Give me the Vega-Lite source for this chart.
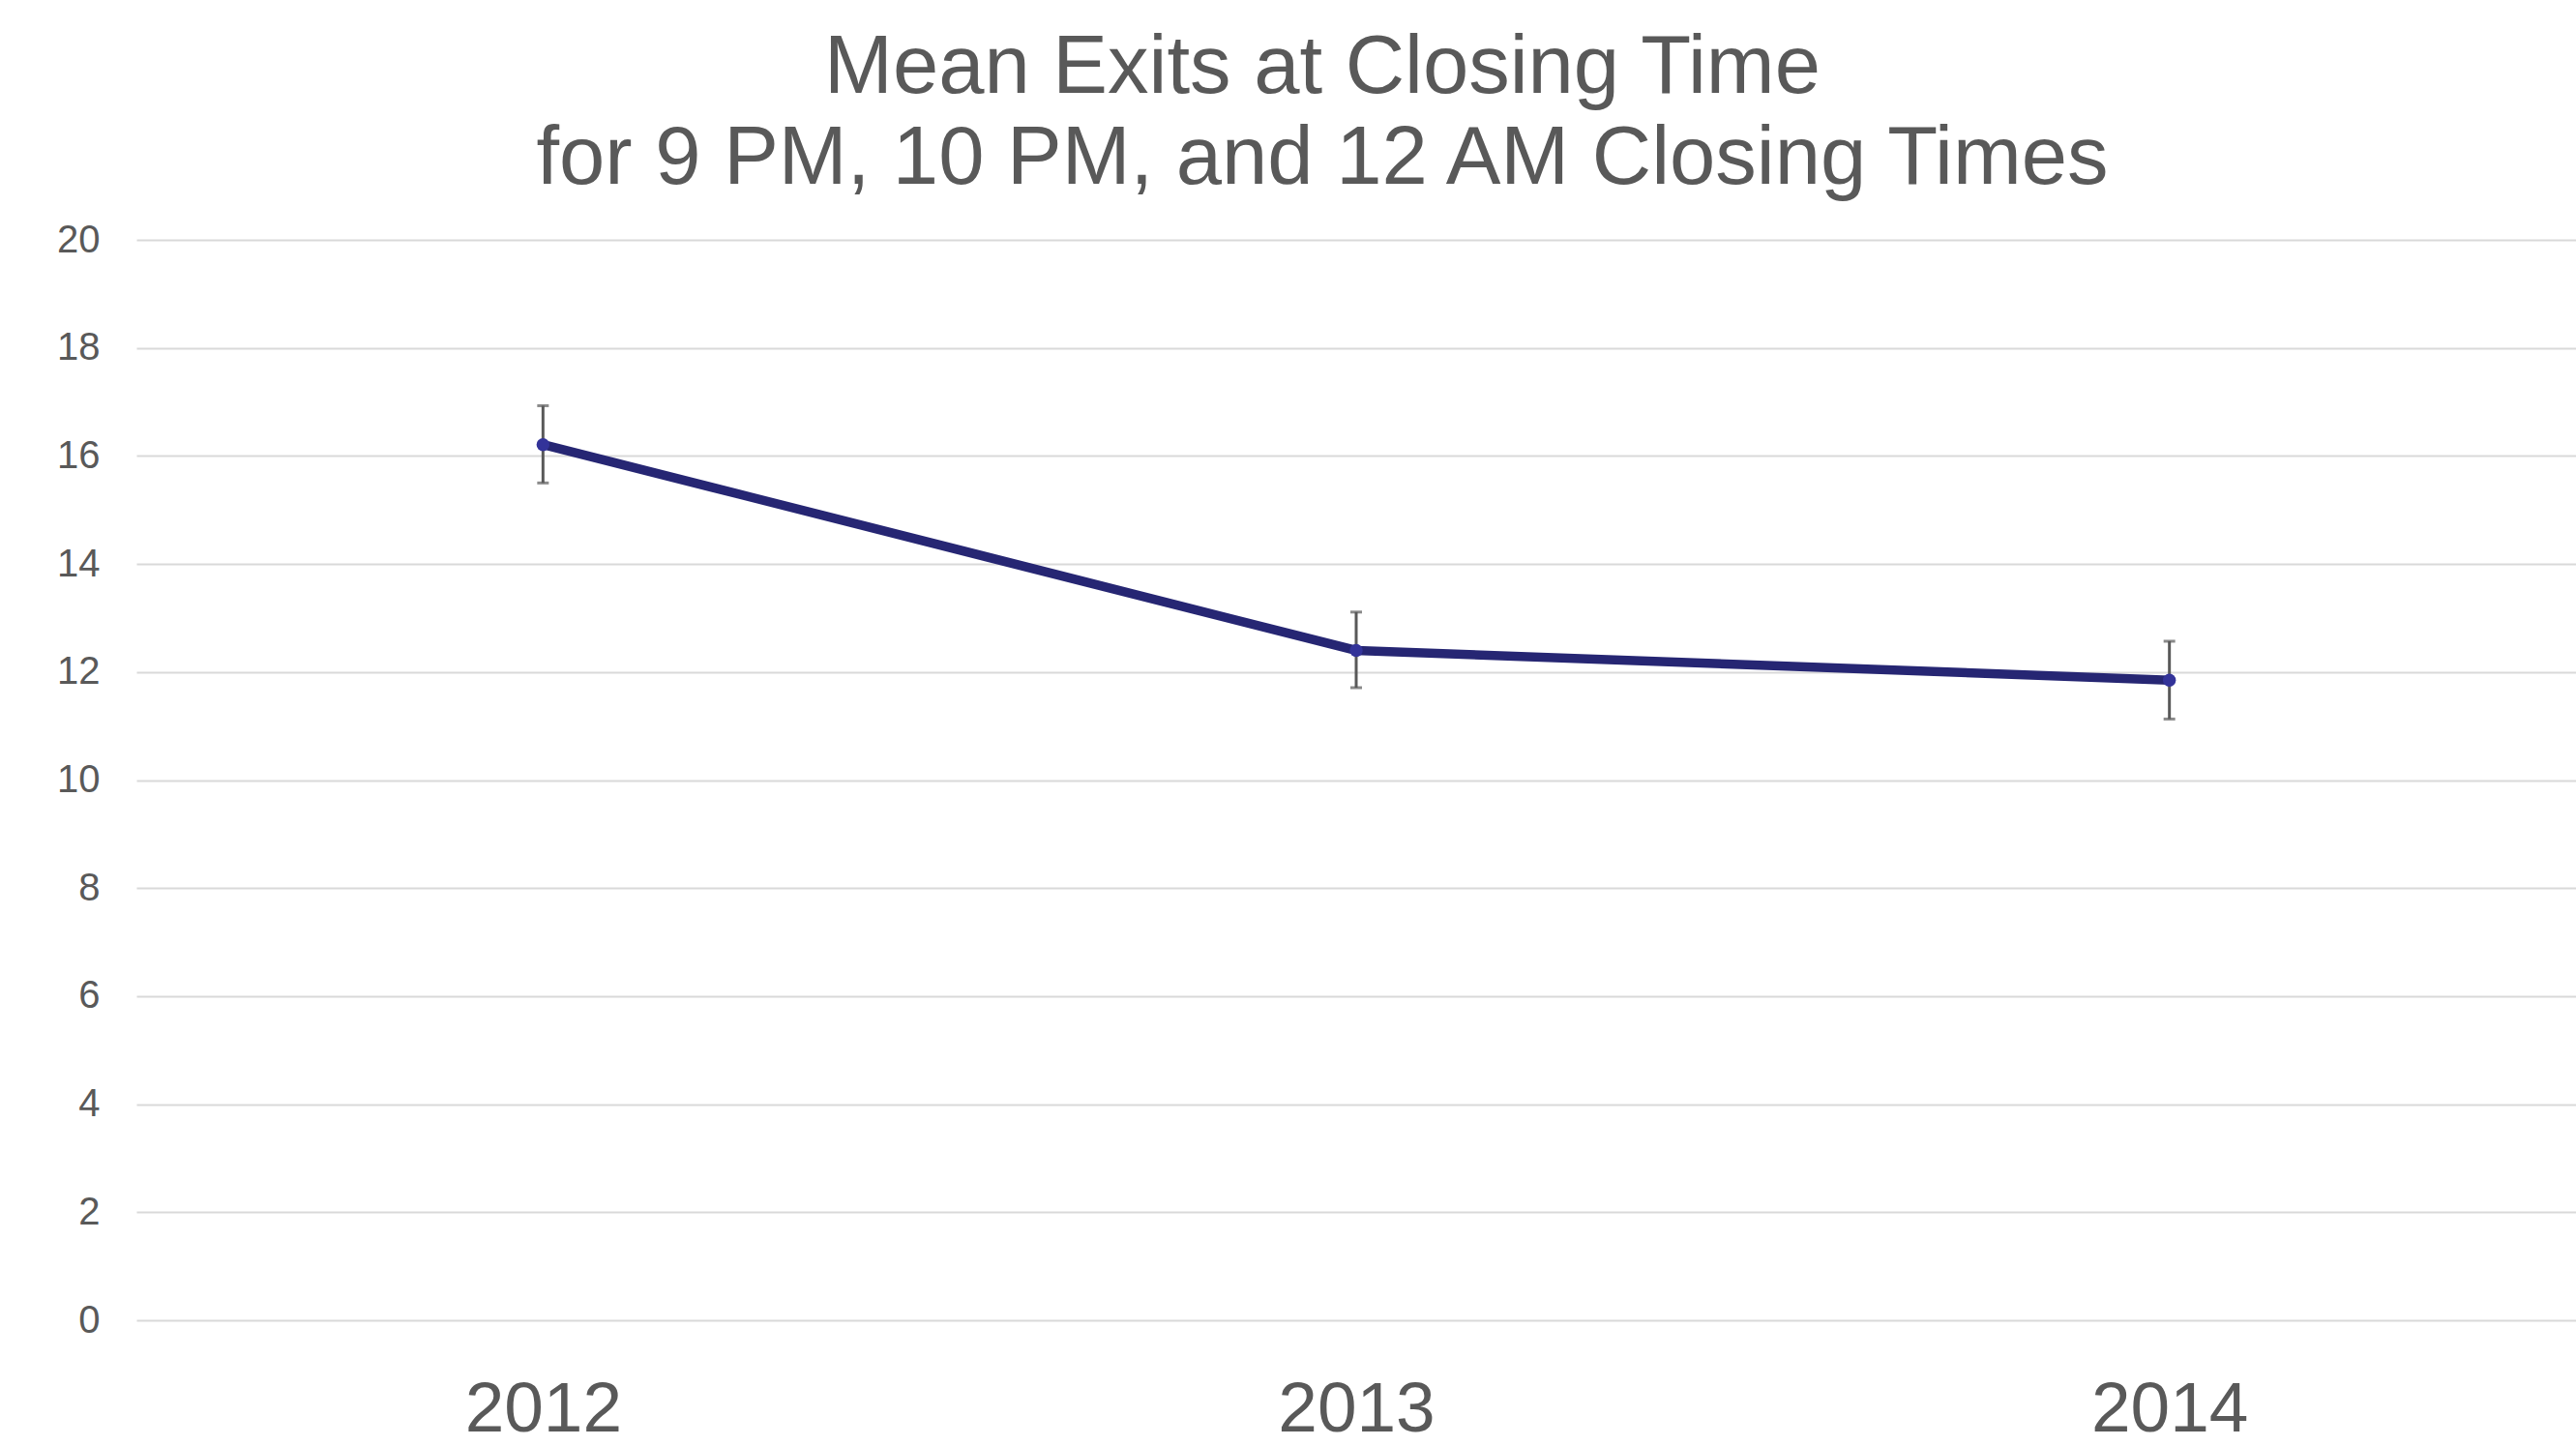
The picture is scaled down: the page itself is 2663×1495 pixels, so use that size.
{
  "$schema": "https://vega.github.io/schema/vega-lite/v6.json",
  "autosize": "none",
  "width": 2522,
  "height": 1117,
  "padding": {"left": 141, "top": 248, "right": 0, "bottom": 130},
  "background": "white",
  "config": {
    "font": "Liberation Sans",
    "view": {"stroke": null}
  },
  "title": {
    "text": ["Mean Exits at Closing Time", "for 9 PM, 10 PM, and 12 AM Closing Times"],
    "fontSize": 85,
    "fontWeight": "normal",
    "font": "Liberation Sans",
    "color": "#595959",
    "lineHeight": 94,
    "anchor": "middle",
    "frame": "group",
    "dx": -35,
    "offset": 20
  },
  "data": {
    "values": [
      {"year": "2012", "mean": 16.21, "lo": 15.5, "hi": 16.93},
      {"year": "2013", "mean": 12.4, "lo": 11.71, "hi": 13.11},
      {"year": "2014", "mean": 11.85, "lo": 11.13, "hi": 12.57}
    ]
  },
  "encoding": {
    "x": {
      "field": "year",
      "type": "ordinal",
      "scale": {"type": "point", "padding": 0.5},
      "axis": {
        "title": null,
        "labelAngle": 0,
        "labelFontSize": 73,
        "labelColor": "#595959",
        "labelBaseline": "alphabetic",
        "labelPadding": 114,
        "ticks": false,
        "domain": false,
        "grid": false
      }
    }
  },
  "layer": [
    {
      "mark": {"type": "rule", "color": "#595959", "strokeWidth": 3},
      "encoding": {
        "y": {"field": "lo", "type": "quantitative"},
        "y2": {"field": "hi"}
      }
    },
    {
      "mark": {"type": "tick", "color": "#595959", "thickness": 3, "size": 12, "orient": "horizontal"},
      "encoding": {"y": {"field": "lo", "type": "quantitative"}}
    },
    {
      "mark": {"type": "tick", "color": "#595959", "thickness": 3, "size": 12, "orient": "horizontal"},
      "encoding": {"y": {"field": "hi", "type": "quantitative"}}
    },
    {
      "mark": {"type": "line", "color": "#262673", "strokeWidth": 9.5},
      "encoding": {
        "y": {
          "field": "mean",
          "type": "quantitative",
          "scale": {"domain": [0, 20], "nice": false},
          "axis": {
            "title": null,
            "values": [0, 2, 4, 6, 8, 10, 12, 14, 16, 18, 20],
            "labelFontSize": 40,
            "labelColor": "#595959",
            "labelPadding": 38,
            "ticks": false,
            "domain": false,
            "grid": true,
            "gridColor": "#d9d9d9",
            "gridWidth": 2
          }
        }
      }
    },
    {
      "mark": {"type": "point", "filled": true, "color": "#333399", "size": 180, "opacity": 1},
      "encoding": {"y": {"field": "mean", "type": "quantitative"}}
    }
  ]
}
